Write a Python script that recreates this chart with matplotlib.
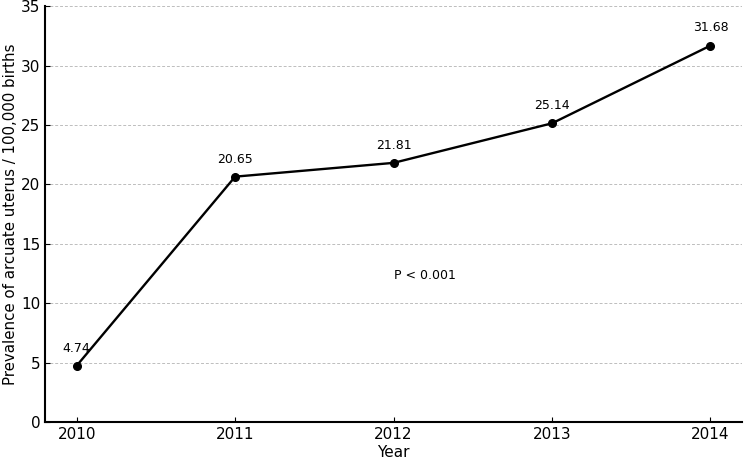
import matplotlib.pyplot as plt

years = [2010, 2011, 2012, 2013, 2014]
prevalence = [4.74, 20.65, 21.81, 25.14, 31.68]
yticks = [0, 5, 10, 15, 20, 25, 30, 35]

fig = plt.figure(figsize=(7.44, 4.59), dpi=100)
ax = fig.add_axes([0.0605, 0.0806, 0.937, 0.906])

ax.plot(years, prevalence, color="black", marker="o", markersize=5.5, linewidth=1.7)
for x, y in zip(years, prevalence):
    ax.annotate(f"{y:.2f}", (x, y), textcoords="offset points", xytext=(0, 8),
                ha="center", va="bottom", fontsize=9)

ax.text(2012.2, 12.3, "P < 0.001", ha="center", va="center", fontsize=9)

ax.set_xlim(2009.8, 2014.2)
ax.set_ylim(0, 35)
ax.set_xticks(years)
ax.set_yticks(yticks)
ax.tick_params(direction="in", labelsize=11)
ax.grid(axis="y", linestyle=(0, (3, 2)), color="#bdbdbd", linewidth=0.7)
ax.spines["top"].set_visible(False)
ax.spines["right"].set_visible(False)
ax.spines["left"].set_linewidth(1.5)
ax.spines["bottom"].set_linewidth(1.5)
ax.set_xlabel("Year", fontsize=11, labelpad=2)
ax.set_ylabel("Prevalence of arcuate uterus / 100,000 births", fontsize=10.8, labelpad=2)

fig.savefig("out.png", dpi=100)
